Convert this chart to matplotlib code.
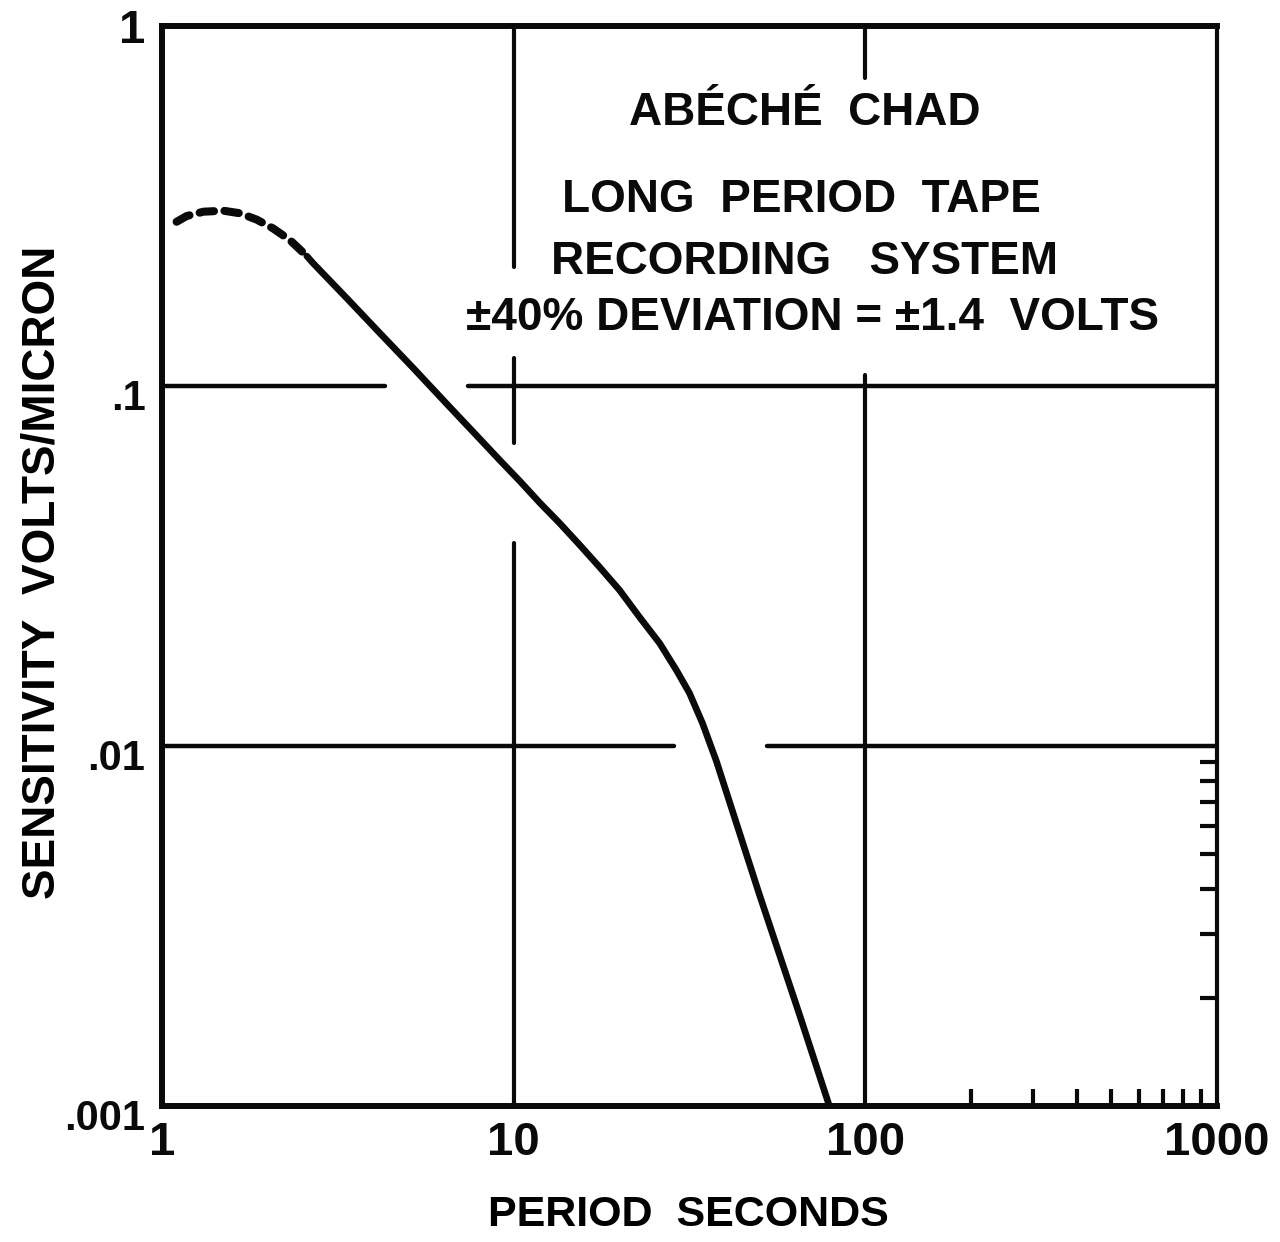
import numpy as np
import matplotlib
matplotlib.use("Agg")
import matplotlib.pyplot as plt
from matplotlib.ticker import FixedLocator, NullFormatter
from matplotlib.transforms import ScaledTranslation

plt.rcParams['font.family'] = ['Liberation Sans', 'DejaVu Sans']
plt.rcParams['font.weight'] = 'bold'
plt.rcParams['axes.labelweight'] = 'bold'

# response curve (period s, volts/micron)
# dashed (uncertain) part near the short period end
period_dash = [1.10, 1.175, 1.31, 1.493, 1.665, 1.858, 2.07, 2.31, 2.58]
sens_dash = [0.286, 0.2967, 0.305, 0.307, 0.302, 0.290, 0.274, 0.2544, 0.2297]
# solid part
period = [2.58, 2.69, 3.35, 4.16, 5.18, 6.58, 8.01, 9.12, 10.4, 11.86, 13.51,
          15.4, 17.55, 20.0, 22.8, 26.0, 29.0, 31.6, 34.4, 37.7, 41.1, 50.0,
          64.9, 79.0]
sens = [0.2297, 0.2193, 0.1755, 0.1404, 0.1122, 0.0874, 0.0713, 0.0623, 0.0545,
        0.0474, 0.0416, 0.0362, 0.0314, 0.0271, 0.0228, 0.0193, 0.01626, 0.01404,
        0.01159, 0.00908, 0.00699, 0.00386, 0.0018, 0.001]

x_ticks = [1, 10, 100, 1000]
x_ticklabels = ['1', '10', '100', '1000']
y_ticks = [0.001, 0.01, 0.1, 1]
y_ticklabels = ['.001', '.01', '.1', '1']
x_minor = [200, 300, 400, 500, 600, 700, 800, 900]
y_minor = [0.002, 0.003, 0.004, 0.005, 0.006, 0.007, 0.008, 0.009]

# hand drawn grid lines, broken where the curve / text passes
h_grid = [(0.1, 1, 4.3), (0.1, 7.4, 1000), (0.01, 1, 28.6), (0.01, 52.6, 1000)]
v_grid = [(10, 0.214, 1), (10, 0.0694, 0.1197), (10, 0.001, 0.0366),
          (100, 0.717, 1), (100, 0.001, 0.107)]

title_lines = ["ABÉCHÉ  CHAD", "LONG  PERIOD  TAPE", "RECORDING   SYSTEM",
               "±40% DEVIATION = ±1.4  VOLTS"]

ink = '#0a0a0a'
fig = plt.figure(figsize=(12.8, 12.42), dpi=100)
ax = fig.add_axes([0.1266, 0.1095, 0.8242, 0.8695])
ax.set_xscale('log')
ax.set_yscale('log')
ax.set_xlim(1, 1000)
ax.set_ylim(0.001, 1)

for y, x0, x1 in h_grid:
    ax.plot([x0, x1], [y, y], color=ink, lw=3.2, solid_capstyle='round')
for x, y0, y1 in v_grid:
    ax.plot([x, x], [y0, y1], color=ink, lw=3.0, solid_capstyle='round')

ax.plot(period_dash, sens_dash, color=ink, lw=5.8, linestyle=(0, (1.8, 1.3)),
        dash_capstyle='round')
ax.plot(period, sens, color=ink, lw=4.8, solid_capstyle='round',
        solid_joinstyle='round')

for s in ['left', 'top', 'bottom']:
    ax.spines[s].set_linewidth(4.3)
    ax.spines[s].set_color(ink)
ax.spines['right'].set_linewidth(3.0)
ax.spines['right'].set_color(ink)

ax.set_xticks(x_ticks)
ax.set_xticklabels(x_ticklabels)
ax.set_yticks(y_ticks)
ax.set_yticklabels(y_ticklabels)
ax.xaxis.set_minor_locator(FixedLocator(x_minor))
ax.yaxis.set_minor_locator(FixedLocator(y_minor))
ax.xaxis.set_minor_formatter(NullFormatter())
ax.yaxis.set_minor_formatter(NullFormatter())
ax.tick_params(which='major', length=0, colors=ink)
ax.tick_params(axis='x', which='major', pad=11, labelsize=34)
ax.tick_params(axis='y', which='major', pad=12, labelsize=30)
ax.tick_params(axis='x', which='minor', direction='in', length=12, width=3,
               bottom=True, top=False, color=ink)
ax.tick_params(axis='y', which='minor', direction='in', length=12, width=3,
               left=False, right=True, color=ink)

# y labels sit a little below their lines on the original
for lab, tv in zip(ax.get_yticklabels(), y_ticks):
    if tv < 1:
        lab.set_transform(lab.get_transform() + ScaledTranslation(0, -6 / 72, fig.dpi_scale_trans))
    else:
        lab.set_fontsize(34)

ax.set_xlabel("PERIOD  SECONDS", fontsize=31)
ax.set_ylabel("SENSITIVITY  VOLTS/MICRON", fontsize=33)
ax.xaxis.set_label_coords(0.4986, -0.1009)
ax.xaxis.label.set_va('center')
ax.yaxis.set_label_coords(-0.1137, 0.4944)
ax.yaxis.label.set_va('center')

title_y = [0.9194, 0.8389, 0.7815, 0.7296]
title_x = [0.6095, 0.6057, 0.6095, 0.617]
for t, tx, ty in zip(title_lines, title_x, title_y):
    ax.text(tx, ty, t, transform=ax.transAxes, ha='center', va='center',
            fontsize=33, color=ink)

fig.savefig('out.png', dpi=100, facecolor='white')
